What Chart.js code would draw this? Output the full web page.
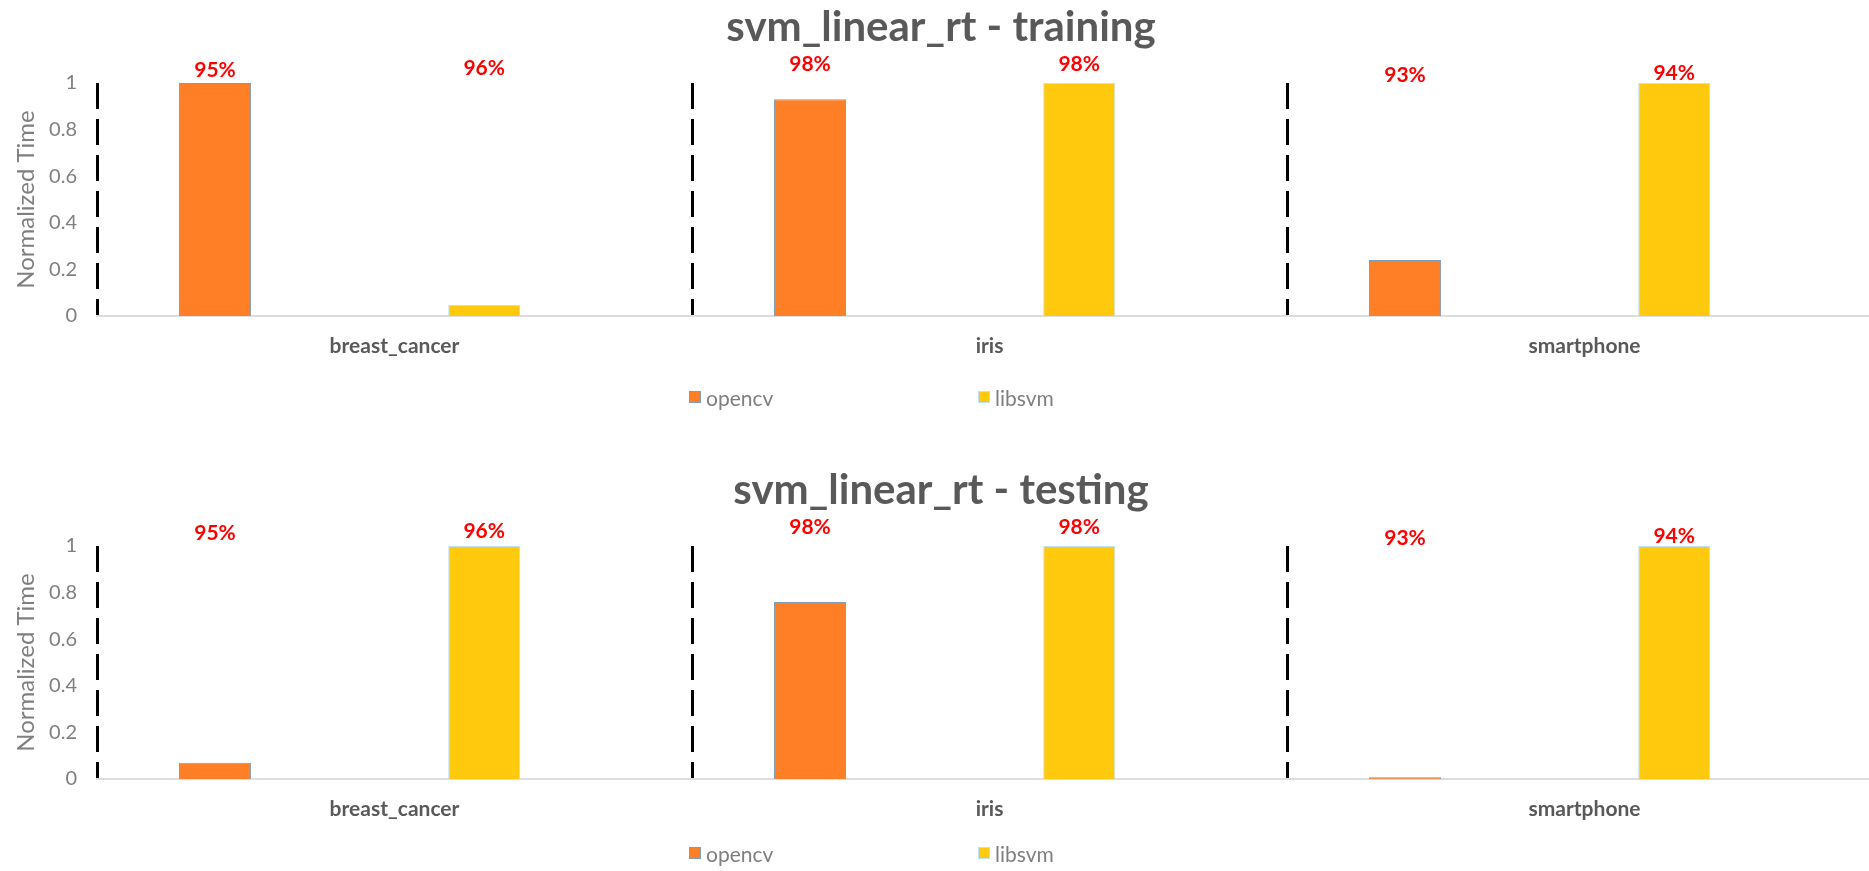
<!DOCTYPE html>
<html>
<head>
<meta charset="utf-8">
<script src="https://cdn.jsdelivr.net/npm/chart.js@4.4.1/dist/chart.umd.min.js"></script>
<style>
  html, body { margin: 0; padding: 0; background: #fff; overflow: hidden; width: 1869px; height: 871px; }
  .panel { position: absolute; left: 0; width: 1884px; height: 408px; }
  .panel canvas { display: block; width: 1884px; height: 408px; }
  .legend-item { position: absolute; display: flex; align-items: center; height: 24px;
                 font-family: Lato, Carlito, Calibri, sans-serif; font-size: 21px; color: #7f7f7f; white-space: nowrap; }
  .legend-swatch { width: 10px; height: 10px; margin-right: 5px; }
</style>
</head>
<body>
<div class="panel" id="panelTrain" style="top:0px"><canvas id="train" width="1884" height="408"></canvas></div>
<div class="panel" id="panelTest" style="top:463px"><canvas id="test" width="1884" height="408"></canvas></div>
<script>
// Benchmark datasets (x categories)
const categories = ['breast_cancer', 'iris', 'smartphone'];

// Normalized run time, training phase
const trainOpencv = [1.0, 0.93, 0.24];
const trainLibsvm = [0.047, 1.0, 1.0];

// Normalized run time, testing phase
const testOpencv = [0.07, 0.76, 0.007];
const testLibsvm = [1.0, 1.0, 1.0];

// Classification accuracy (%) printed above each library's bar
const accOpencv = [95, 98, 93];
const accLibsvm = [96, 98, 94];

const seriesNames = ['opencv', 'libsvm'];
const seriesFill = ['#FF7F27', '#FFC90E'];
const seriesEdge = ['#7F9DB8', '#BFE2F0'];

Chart.defaults.font.family = 'Lato, Carlito, Calibri, sans-serif';
Chart.defaults.animation = false;

// Draws the accuracy labels: x from the bar, y from the hidden accuracy axis
const accuracyLabels = {
  id: 'accuracyLabels',
  afterDatasetsDraw(chart) {
    const acc = chart.scales.acc;
    if (!acc) return;
    const ctx = chart.ctx;
    ctx.save();
    ctx.font = 'bold 21px Lato, Carlito, Calibri, sans-serif';
    ctx.fillStyle = '#FF0000';
    ctx.textAlign = 'center';
    ctx.textBaseline = 'middle';
    chart.data.datasets.forEach((ds, di) => {
      if (!ds.accuracy) return;
      const meta = chart.getDatasetMeta(di);
      meta.data.forEach((bar, i) => {
        const v = ds.accuracy[i];
        ctx.fillText(v + '%', bar.x, acc.getPixelForValue(v));
      });
    });
    ctx.restore();
  }
};

function spacer() {
  return { label: '', data: categories.map(() => null), backgroundColor: 'rgba(0,0,0,0)' };
}

function buildChart(canvasId, panelId, titleText, opencvVals, libsvmVals, legendTop) {
  const seriesVals = [opencvVals, libsvmVals];
  const accs = [accOpencv, accLibsvm];
  const mk = (k) => ({
    label: seriesNames[k],
    data: seriesVals[k],
    accuracy: accs[k],
    backgroundColor: seriesFill[k],
    borderColor: seriesEdge[k],
    borderWidth: 1
  });
  const chart = new Chart(document.getElementById(canvasId), {
    type: 'bar',
    data: {
      labels: categories,
      datasets: [mk(0), spacer(), spacer(), mk(1), spacer()]
    },
    options: {
      responsive: false,
      maintainAspectRatio: false,
      categoryPercentage: 0.754,
      barPercentage: 0.803,
      layout: { padding: { left: 0, right: 2, top: 0, bottom: 50 } },
      plugins: {
        legend: { display: false },
        tooltip: { enabled: false },
        title: {
          display: true,
          text: titleText,
          color: '#595959',
          font: { size: 42, weight: 'bold' },
          padding: { top: 1.8, bottom: 30.8 }
        }
      },
      scales: {
        x: {
          offset: true,
          grid: { display: true, offset: true, color: '#000000', lineWidth: 3, drawTicks: false },
          border: { display: true, color: '#DDDDDD', width: 2, dash: [26, 10] },
          ticks: { color: '#595959', font: { size: 21, weight: 'bold' }, padding: 18 },
          afterFit(scale) { scale.height = 42; }
        },
        y: {
          min: 0,
          max: 1,
          ticks: {
            stepSize: 0.2,
            color: '#7F7F7F',
            font: { size: 20 },
            padding: 20,
            callback: (v) => String(Number(v.toFixed(2)))
          },
          grid: { display: false, drawTicks: false },
          border: { display: false },
          title: { display: true, text: 'Normalized Time', color: '#7F7F7F', font: { size: 24 }, padding: { top: 12, bottom: 0 } },
          afterFit(scale) { scale.width = 97; }
        },
        acc: {
          axis: 'y',
          position: 'right',
          display: false,
          min: -16.5,
          max: 89.4
        }
      }
    },
    plugins: [accuracyLabels]
  });

  // Legend built from the two library series
  const panel = document.getElementById(panelId);
  const legendLeft = [689, 978];
  chart.data.datasets.filter(d => d.label).forEach((ds, k) => {
    const item = document.createElement('div');
    item.className = 'legend-item';
    item.style.left = legendLeft[k] + 'px';
    item.style.top = legendTop + 'px';
    const sw = document.createElement('span');
    sw.className = 'legend-swatch';
    sw.style.background = ds.backgroundColor;
    sw.style.border = '1px solid ' + ds.borderColor;
    const tx = document.createElement('span');
    tx.textContent = ds.label;
    item.appendChild(sw);
    item.appendChild(tx);
    panel.appendChild(item);
  });
  return chart;
}

buildChart('train', 'panelTrain', 'svm_linear_rt - training', trainOpencv, trainLibsvm, 385);
buildChart('test', 'panelTest', 'svm_linear_rt - testing', testOpencv, testLibsvm, 378);
</script>
</body>
</html>
